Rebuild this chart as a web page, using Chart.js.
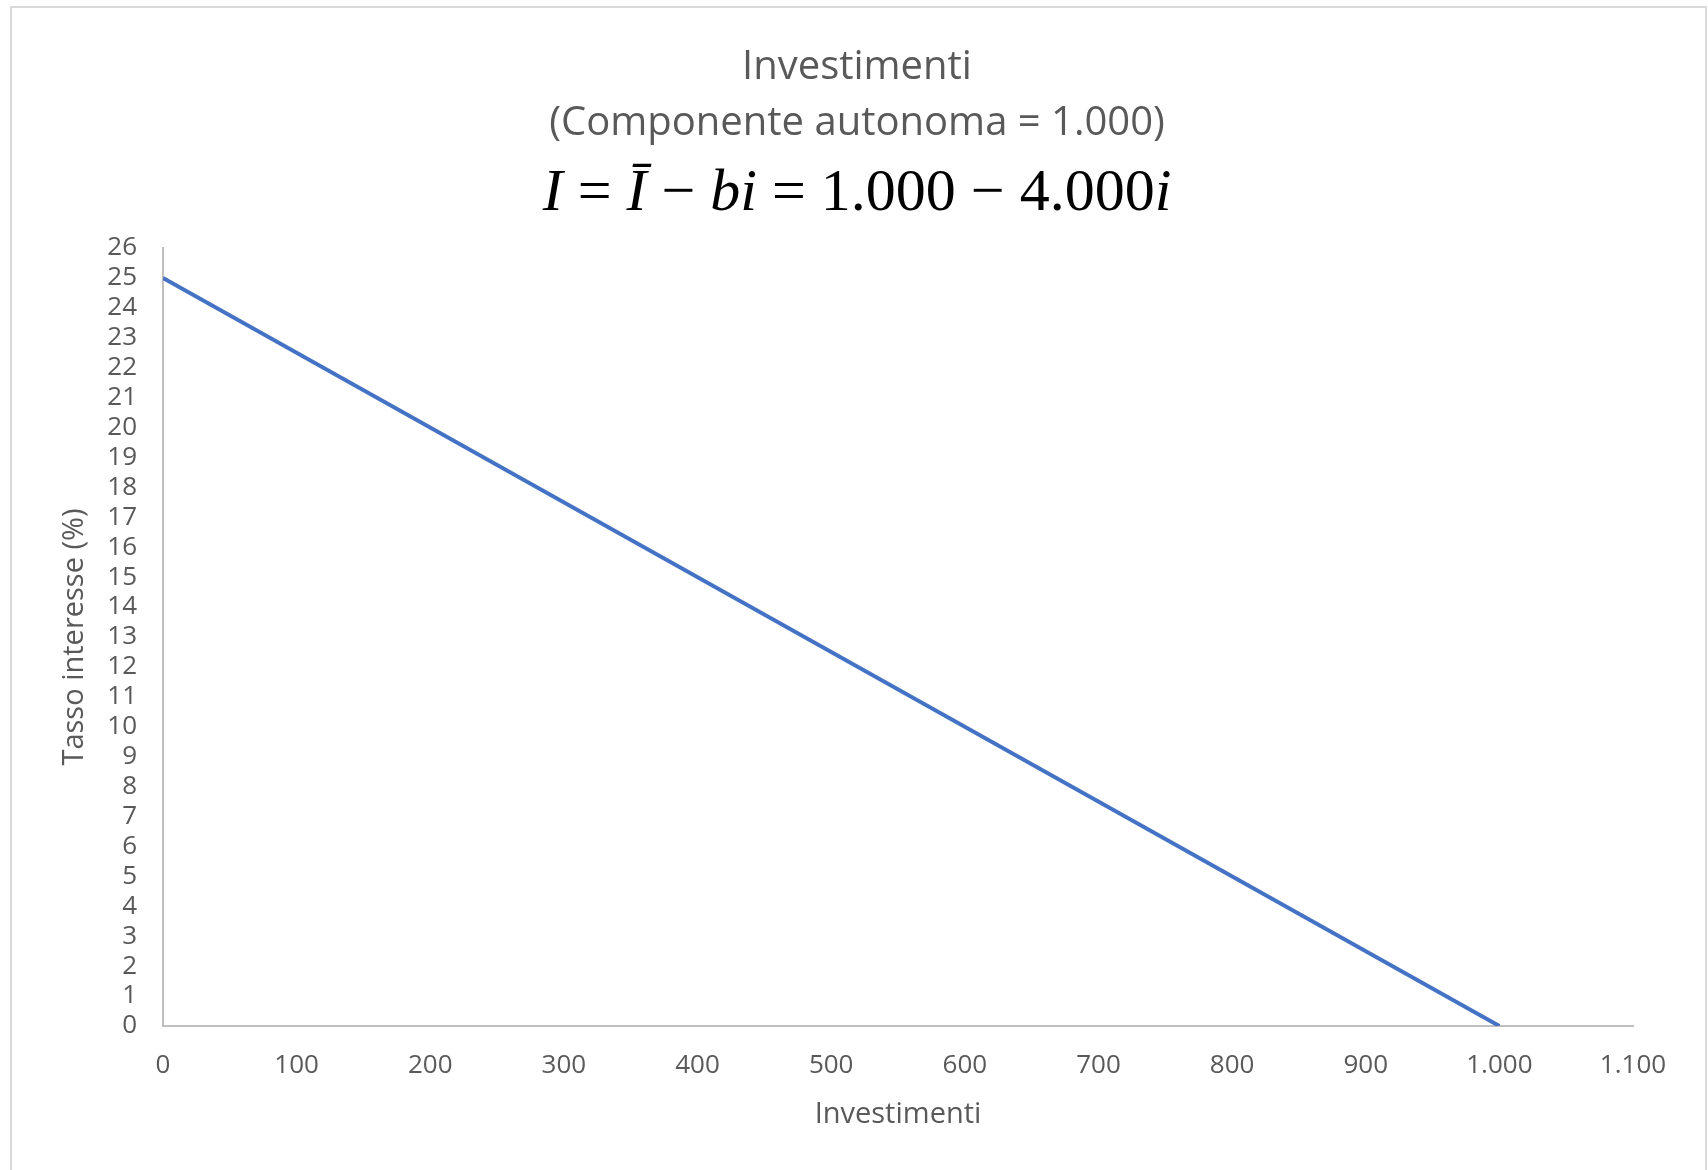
<!DOCTYPE html>
<html>
<head>
<meta charset="utf-8">
<script src="https://cdn.jsdelivr.net/npm/chart.js@4.4.1/dist/chart.umd.min.js"></script>
<style>
  html, body { margin: 0; padding: 0; background: #fff; }
  #wrap { width: 1708px; height: 1170px; }
</style>
</head>
<body>
<div id="wrap"><canvas id="myChart" width="1708" height="1170"></canvas></div>
<script>
"use strict";

// data
var investimenti = [0, 1000];
var tassoInteresse = [25, 0];
var xRange = [0, 1100];
var yRange = [0, 26];
var titleLines = ["Investimenti", "(Componente autonoma = 1.000)"];

var grey = "#595959";

function formatIt(v) {
  return String(v).replace(/\B(?=(\d{3})+(?!\d))/g, ".");
}

/* frame round the chart */
var framePlugin = {
  id: "frame",
  beforeDraw: function(chart) {
    var c = chart.ctx;
    c.save();
    c.fillStyle = "#fff";
    c.fillRect(0, 0, chart.width, chart.height);
    c.strokeStyle = "#d9d9d9";
    c.lineWidth = 2;
    c.strokeRect(11, 7, 1695, 1220);
    c.restore();
  }
};

/* formula line under the title: italic letters, upright numbers,
   math spacing round the operators */
var formulaPlugin = {
  id: "formula",
  afterDraw: function(chart) {
    var c = chart.ctx;
    var size = 60;
    var gap = size * 0.25;
    var it = "italic " + size + "px 'Liberation Serif'";
    var up = size + "px 'Liberation Serif'";
    // [text, font, space before]
    var parts = [
      ["I", it, 0], ["=", up, gap], ["\u012A", it, gap], ["\u2212", up, gap],
      ["bi", it, gap], ["=", up, gap], ["1.000", up, gap], ["\u2212", up, gap],
      ["4.000", up, gap], ["i", it, 0]
    ];
    c.save();
    var total = 0;
    parts.forEach(function(p) { c.font = p[1]; total += p[2] + c.measureText(p[0]).width; });
    var tb = chart.titleBlock;
    var x = (tb.left + tb.right) / 2 - total / 2;
    c.fillStyle = "#000";
    c.textBaseline = "alphabetic";
    c.textAlign = "left";
    parts.forEach(function(p) {
      c.font = p[1];
      x += p[2];
      c.fillText(p[0], x, 210);
      x += c.measureText(p[0]).width;
    });
    c.restore();
  }
};

var ctx = document.getElementById("myChart");
var points = investimenti.map(function(v, i) { return {x: v, y: tassoInteresse[i]}; });

new Chart(ctx, {
  type: "scatter",
  data: {
    datasets: [{
      label: "Investimenti",
      data: points,
      showLine: true,
      borderColor: "#4472C4",
      backgroundColor: "#4472C4",
      borderWidth: 4,
      pointRadius: 0,
      pointHoverRadius: 0
    }]
  },
  options: {
    responsive: false,
    animation: false,
    layout: { padding: { left: 6, right: 0, top: 0, bottom: 0 } },
    plugins: {
      legend: { display: false },
      tooltip: { enabled: false },
      title: {
        display: true,
        text: titleLines,
        color: grey,
        font: { family: "'Open Sans'", size: 40, weight: "normal", lineHeight: 1.4 },
        padding: { top: 40, bottom: 96 }
      }
    },
    scales: {
      x: {
        type: "linear",
        min: xRange[0],
        max: xRange[1],
        grid: { display: false, drawTicks: false },
        border: { display: true, color: "#bfbfbf", width: 2 },
        ticks: {
          stepSize: 100,
          color: grey,
          padding: 24,
          maxRotation: 0,
          font: { family: "'Open Sans'", size: 26, lineHeight: 1.2 },
          callback: function(v) { return formatIt(v); }
        },
        title: {
          display: true,
          text: "Investimenti",
          color: grey,
          font: { family: "'Open Sans'", size: 29, lineHeight: 1.2 },
          padding: { top: 0, bottom: 37.6 }
        },
        afterFit: function(s) { s.height = 144; }
      },
      y: {
        min: yRange[0],
        max: yRange[1],
        grid: { display: false, drawTicks: false },
        border: { display: true, color: "#bfbfbf", width: 2 },
        ticks: {
          stepSize: 1,
          autoSkip: false,
          color: grey,
          padding: 26,
          font: { family: "'Open Sans'", size: 26, lineHeight: 1.2 }
        },
        title: {
          display: true,
          text: "Tasso interesse (%)",
          color: grey,
          font: { family: "'Open Sans'", size: 29, lineHeight: 1.2 },
          padding: { top: 51.6, bottom: 0 }
        },
        afterFit: function(s) { s.width = 157; }
      },
      yRight: {
        position: "right",
        display: true,
        grid: { display: false, drawTicks: false },
        border: { display: false },
        ticks: { display: false },
        afterFit: function(s) { s.width = 75; }
      }
    }
  },
  plugins: [framePlugin, formulaPlugin]
});
</script>
</body>
</html>
